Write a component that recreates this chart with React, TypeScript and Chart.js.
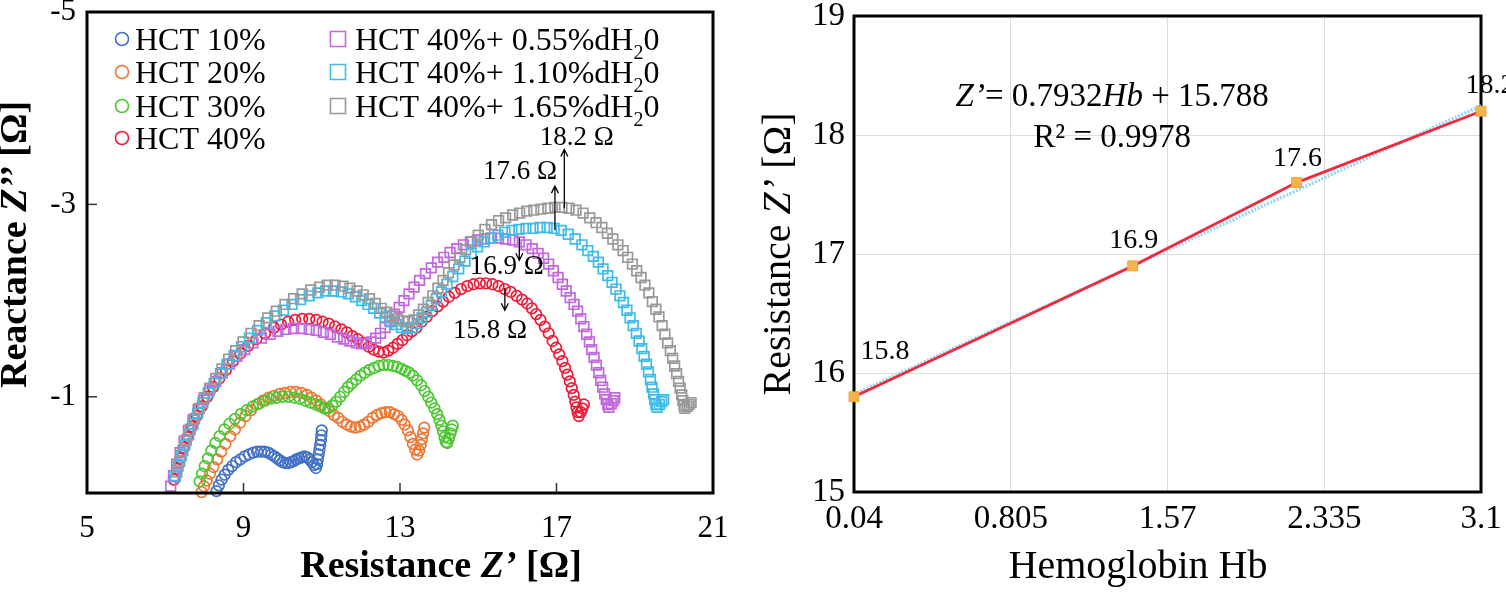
import React, { useEffect, useRef } from 'react';
import { Chart, registerables } from 'chart.js';

Chart.register(...registerables);

const SERIF = '"Liberation Serif", "Times New Roman", Times, serif';

type Pt = [number, number];

// ---------------- Left panel: Nyquist plot (Resistance Z', Reactance Z'') ----------------
const hct10: Pt[] = [
  [8.31, -0.02], [8.37, -0.08], [8.44, -0.14], [8.52, -0.19], [8.61, -0.24], [8.71, -0.28], [8.81, -0.32],
  [8.92, -0.35], [9.03, -0.38], [9.14, -0.40], [9.25, -0.42], [9.35, -0.43], [9.45, -0.43], [9.54, -0.43],
  [9.63, -0.42], [9.71, -0.40], [9.79, -0.38], [9.86, -0.36], [9.93, -0.34], [10.0, -0.32], [10.07, -0.31],
  [10.14, -0.31], [10.21, -0.32], [10.28, -0.33], [10.35, -0.35], [10.42, -0.36], [10.49, -0.37], [10.56, -0.38],
  [10.63, -0.37], [10.69, -0.35], [10.75, -0.32], [10.8, -0.29], [10.85, -0.26], [10.88, -0.3], [10.9, -0.35],
  [10.92, -0.4], [10.94, -0.45], [10.96, -0.5], [10.98, -0.55], [10.99, -0.6], [11.0, -0.65],
];

const hct20: Pt[] = [
  [7.93, -0.01], [7.99, -0.07], [8.06, -0.13], [8.14, -0.2], [8.23, -0.27], [8.33, -0.35], [8.43, -0.43],
  [8.54, -0.51], [8.66, -0.59], [8.78, -0.66], [8.91, -0.73], [9.05, -0.8], [9.19, -0.86], [9.34, -0.92],
  [9.5, -0.96], [9.64, -0.99], [9.78, -1.01], [9.92, -1.03], [10.06, -1.04], [10.2, -1.05], [10.34, -1.05],
  [10.48, -1.04], [10.62, -1.02], [10.74, -0.99], [10.86, -0.96], [10.98, -0.92], [11.09, -0.88], [11.2, -0.85],
  [11.31, -0.81], [11.42, -0.78], [11.53, -0.74], [11.64, -0.71], [11.75, -0.69], [11.86, -0.68], [11.97, -0.69],
  [12.08, -0.71], [12.19, -0.74], [12.3, -0.78], [12.41, -0.81], [12.52, -0.83], [12.63, -0.84], [12.74, -0.84],
  [12.85, -0.82], [12.95, -0.8], [13.04, -0.76], [13.12, -0.71], [13.2, -0.65], [13.27, -0.58], [13.33, -0.51],
  [13.39, -0.45], [13.44, -0.4], [13.49, -0.44], [13.53, -0.5], [13.56, -0.56], [13.59, -0.62], [13.62, -0.68],
];

const hct30: Pt[] = [
  [7.88, -0.12], [7.94, -0.2], [8.01, -0.28], [8.09, -0.36], [8.18, -0.44], [8.28, -0.52], [8.39, -0.59],
  [8.51, -0.66], [8.64, -0.72], [8.78, -0.77], [8.93, -0.82], [9.08, -0.86], [9.24, -0.9], [9.4, -0.93],
  [9.55, -0.96], [9.7, -0.98], [9.85, -0.99], [10.0, -1.0], [10.15, -1.0], [10.3, -0.99], [10.44, -0.98],
  [10.58, -0.96], [10.71, -0.94], [10.84, -0.92], [10.96, -0.9], [11.07, -0.88], [11.17, -0.88], [11.27, -0.91],
  [11.37, -0.95], [11.47, -1.0], [11.57, -1.05], [11.67, -1.1], [11.77, -1.14], [11.88, -1.18], [11.99, -1.22],
  [12.1, -1.25], [12.22, -1.28], [12.34, -1.3], [12.46, -1.32], [12.58, -1.33], [12.7, -1.33], [12.82, -1.32],
  [12.93, -1.31], [13.04, -1.29], [13.14, -1.27], [13.24, -1.25], [13.33, -1.22], [13.44, -1.17], [13.54, -1.12],
  [13.63, -1.06], [13.72, -1.0], [13.8, -0.94], [13.88, -0.88], [13.95, -0.82], [14.01, -0.76], [14.06, -0.7],
  [14.1, -0.64], [14.14, -0.58], [14.17, -0.53], [14.21, -0.52], [14.25, -0.57], [14.29, -0.62], [14.32, -0.66],
  [14.35, -0.7],
];

const hct40: Pt[] = [
  [7.22, -0.14], [7.3, -0.25], [7.38, -0.36], [7.47, -0.47], [7.57, -0.58], [7.68, -0.69], [7.8, -0.8],
  [7.93, -0.9], [8.07, -1.0], [8.22, -1.1], [8.38, -1.19], [8.55, -1.28], [8.73, -1.37], [8.92, -1.45],
  [9.12, -1.53], [9.33, -1.6], [9.55, -1.66], [9.78, -1.72], [9.96, -1.75], [10.14, -1.78], [10.32, -1.8],
  [10.5, -1.81], [10.68, -1.81], [10.86, -1.8], [11.02, -1.78], [11.18, -1.76], [11.34, -1.73], [11.5, -1.7],
  [11.64, -1.67], [11.78, -1.63], [11.92, -1.6], [12.06, -1.56], [12.2, -1.52], [12.33, -1.49], [12.46, -1.47],
  [12.58, -1.46], [12.7, -1.48], [12.82, -1.51], [12.94, -1.55], [13.06, -1.59], [13.18, -1.64], [13.3, -1.68],
  [13.42, -1.72], [13.55, -1.78], [13.68, -1.83], [13.82, -1.89], [13.96, -1.94], [14.1, -1.99], [14.25, -2.04],
  [14.4, -2.08], [14.56, -2.12], [14.72, -2.15], [14.88, -2.17], [15.04, -2.18], [15.2, -2.18], [15.36, -2.17],
  [15.52, -2.15], [15.68, -2.12], [15.83, -2.09], [15.98, -2.05], [16.12, -2.01], [16.25, -1.97], [16.37, -1.92],
  [16.48, -1.86], [16.59, -1.8], [16.7, -1.73], [16.8, -1.66], [16.9, -1.58], [16.99, -1.51], [17.07, -1.44],
  [17.15, -1.37], [17.22, -1.3], [17.28, -1.23], [17.34, -1.16], [17.39, -1.09], [17.44, -1.02], [17.48, -0.95],
  [17.51, -0.89], [17.54, -0.84], [17.57, -0.8], [17.62, -0.84], [17.66, -0.88], [17.7, -0.92],
];

const hct40Water055: Pt[] = [
  [7.14, -0.07], [7.21, -0.18], [7.29, -0.3], [7.38, -0.42], [7.48, -0.54], [7.59, -0.65], [7.71, -0.76],
  [7.84, -0.87], [7.98, -0.97], [8.13, -1.07], [8.29, -1.16], [8.46, -1.25], [8.64, -1.34], [8.83, -1.42],
  [9.03, -1.49], [9.24, -1.56], [9.46, -1.61], [9.68, -1.65], [9.88, -1.68], [10.08, -1.7], [10.28, -1.71],
  [10.48, -1.71], [10.68, -1.7], [10.86, -1.69], [11.04, -1.67], [11.22, -1.65], [11.4, -1.62], [11.56, -1.6],
  [11.72, -1.58], [11.88, -1.56], [12.02, -1.55], [12.14, -1.55], [12.26, -1.57], [12.38, -1.61], [12.5, -1.66],
  [12.62, -1.72], [12.74, -1.79], [12.86, -1.86], [12.98, -1.93], [13.1, -2.0], [13.23, -2.07], [13.36, -2.14],
  [13.5, -2.21], [13.65, -2.28], [13.8, -2.34], [13.96, -2.4], [14.12, -2.45], [14.28, -2.5], [14.45, -2.54],
  [14.62, -2.58], [14.8, -2.61], [14.98, -2.63], [15.16, -2.64], [15.34, -2.65], [15.52, -2.65], [15.7, -2.64],
  [15.88, -2.63], [16.05, -2.61], [16.22, -2.58], [16.38, -2.54], [16.53, -2.49], [16.67, -2.44], [16.8, -2.38],
  [16.92, -2.31], [17.04, -2.24], [17.15, -2.17], [17.25, -2.1], [17.35, -2.03], [17.45, -1.96], [17.54, -1.89],
  [17.62, -1.81], [17.7, -1.73], [17.77, -1.65], [17.84, -1.57], [17.9, -1.49], [17.96, -1.41], [18.02, -1.33],
  [18.08, -1.25], [18.13, -1.17], [18.18, -1.1], [18.23, -1.03], [18.27, -0.97], [18.31, -0.92], [18.34, -0.89],
  [18.4, -0.93], [18.45, -0.96], [18.49, -0.99],
];

const hct40Water110: Pt[] = [
  [7.26, -0.17], [7.33, -0.28], [7.41, -0.39], [7.5, -0.5], [7.6, -0.61], [7.71, -0.72], [7.83, -0.83],
  [7.96, -0.94], [8.1, -1.04], [8.25, -1.14], [8.41, -1.24], [8.58, -1.34], [8.76, -1.43], [8.95, -1.52],
  [9.15, -1.61], [9.36, -1.69], [9.58, -1.77], [9.8, -1.84], [10.02, -1.9], [10.24, -1.96], [10.46, -2.01],
  [10.68, -2.05], [10.9, -2.08], [11.1, -2.1], [11.3, -2.1], [11.5, -2.09], [11.68, -2.07], [11.86, -2.04],
  [12.02, -2.0], [12.18, -1.96], [12.33, -1.92], [12.48, -1.87], [12.62, -1.83], [12.76, -1.78], [12.9, -1.75],
  [13.04, -1.72], [13.18, -1.71], [13.32, -1.72], [13.44, -1.76], [13.56, -1.82], [13.68, -1.88], [13.8, -1.95],
  [13.93, -2.02], [14.06, -2.09], [14.2, -2.17], [14.35, -2.25], [14.5, -2.33], [14.66, -2.41], [14.82, -2.49],
  [14.98, -2.56], [15.15, -2.61], [15.32, -2.65], [15.5, -2.68], [15.68, -2.71], [15.86, -2.73], [16.04, -2.74],
  [16.22, -2.75], [16.4, -2.75], [16.58, -2.76], [16.76, -2.76], [16.94, -2.75], [17.12, -2.73], [17.3, -2.69],
  [17.48, -2.64], [17.65, -2.58], [17.8, -2.52], [17.94, -2.46], [18.07, -2.4], [18.19, -2.33], [18.31, -2.26],
  [18.42, -2.19], [18.52, -2.12], [18.62, -2.05], [18.71, -1.98], [18.8, -1.9], [18.88, -1.82], [18.96, -1.74],
  [19.04, -1.66], [19.11, -1.58], [19.18, -1.5], [19.24, -1.42], [19.3, -1.34], [19.35, -1.26], [19.4, -1.18],
  [19.44, -1.1], [19.48, -1.03], [19.51, -0.97], [19.54, -0.92], [19.57, -0.89], [19.63, -0.92], [19.69, -0.95],
  [19.74, -0.97],
];

const hct40Water165: Pt[] = [
  [7.3, -0.22], [7.37, -0.33], [7.45, -0.44], [7.54, -0.55], [7.64, -0.66], [7.75, -0.77], [7.87, -0.88],
  [8.0, -0.99], [8.14, -1.09], [8.29, -1.19], [8.45, -1.29], [8.62, -1.39], [8.8, -1.48], [8.99, -1.57],
  [9.19, -1.66], [9.4, -1.74], [9.62, -1.82], [9.84, -1.89], [10.06, -1.96], [10.28, -2.02], [10.5, -2.07],
  [10.72, -2.11], [10.94, -2.14], [11.14, -2.16], [11.34, -2.16], [11.54, -2.15], [11.72, -2.13], [11.9, -2.1],
  [12.06, -2.06], [12.22, -2.02], [12.37, -1.97], [12.52, -1.92], [12.66, -1.88], [12.8, -1.84], [12.94, -1.81],
  [13.08, -1.79], [13.22, -1.78], [13.36, -1.8], [13.48, -1.85], [13.6, -1.91], [13.72, -1.98], [13.84, -2.05],
  [13.97, -2.13], [14.1, -2.21], [14.24, -2.29], [14.38, -2.37], [14.53, -2.45], [14.68, -2.53], [14.84, -2.61],
  [15.0, -2.68], [15.17, -2.74], [15.34, -2.79], [15.52, -2.83], [15.7, -2.86], [15.88, -2.89], [16.06, -2.91],
  [16.24, -2.93], [16.42, -2.94], [16.6, -2.95], [16.78, -2.96], [16.96, -2.97], [17.14, -2.97], [17.32, -2.96],
  [17.5, -2.94], [17.68, -2.91], [17.85, -2.86], [18.01, -2.81], [18.16, -2.76], [18.3, -2.7], [18.44, -2.64],
  [18.57, -2.58], [18.7, -2.52], [18.82, -2.45], [18.94, -2.38], [19.05, -2.31], [19.16, -2.24], [19.26, -2.16],
  [19.36, -2.08], [19.45, -1.99], [19.54, -1.91], [19.62, -1.83], [19.7, -1.74], [19.77, -1.65], [19.84, -1.56],
  [19.91, -1.48], [19.97, -1.4], [20.02, -1.32], [20.07, -1.24], [20.12, -1.16], [20.16, -1.09], [20.2, -1.02],
  [20.23, -0.96], [20.26, -0.91], [20.28, -0.88], [20.34, -0.9], [20.39, -0.92], [20.44, -0.94],
];

const nyquistLabels = [
  'HCT 10%', 'HCT 20%', 'HCT 30%', 'HCT 40%',
  'HCT 40%+ 0.55%dH₂0', 'HCT 40%+ 1.10%dH₂0', 'HCT 40%+ 1.65%dH₂0',
];
const resistanceTicks = [5, 9, 13, 17, 21];
const reactanceTicks = [-5, -3, -1];

const peakLabels = ['18.2 Ω', '17.6 Ω', '16.9 Ω', '15.8 Ω'];
const peakTextX = [17.52, 16.07, 15.73, 15.3];
const peakTextY = [-3.69, -3.34, -2.35, -1.69];
const arrowX = [17.2, 16.96, 16.05, 15.68];
const arrowFromY = [-2.96, -2.73, -2.65, -2.13];
const arrowToY = [-3.57, -3.19, -2.42, -1.9];

// ---------------- Right panel: Resistance vs Hemoglobin ----------------
const hemoglobin = [0.04, 1.4, 2.2, 3.1];
const resistanceZ = [15.8, 16.9, 17.6, 18.2];
const trendHb = [0.04, 3.1];
const trendZ = [15.82, 18.247];
const hbTicks = [0.04, 0.805, 1.57, 2.335, 3.1];
const zTicks = [15, 16, 17, 18, 19];
const pointLabels = ['15.8', '16.9', '17.6', '18.2'];

// ---------------- styles ----------------
const seriesColors = ['#4272c6', '#ef7630', '#4cc633', '#f01a38', '#c268de', '#3fbbe8', '#999999'];
const seriesShapes = ['circle', 'circle', 'circle', 'circle', 'rect', 'rect', 'rect'];
const labelDx = [31, 1, 1, 9];
const labelDy = [-38, -18, -17, -18];

type Seg = { t: string; it?: boolean; sub?: boolean };

function drawRich(
  ctx: CanvasRenderingContext2D,
  segs: Seg[],
  x: number,
  y: number,
  size: number,
  opts: { bold?: boolean; align?: 'left' | 'center'; rotate?: boolean; baseline?: CanvasTextBaseline } = {},
) {
  ctx.save();
  ctx.translate(x, y);
  if (opts.rotate) ctx.rotate(-Math.PI / 2);
  ctx.textBaseline = opts.baseline ?? 'alphabetic';
  ctx.textAlign = 'left';
  ctx.fillStyle = '#000';
  const font = (s: Seg) =>
    `${s.it ? 'italic ' : ''}${opts.bold ? 'bold ' : ''}${s.sub ? Math.round(size * 0.62) : size}px ${SERIF}`;
  const widths = segs.map((s) => {
    ctx.font = font(s);
    return ctx.measureText(s.t).width;
  });
  const total = widths.reduce((a, b) => a + b, 0);
  let cx = opts.align === 'center' ? -total / 2 : 0;
  segs.forEach((s, i) => {
    ctx.font = font(s);
    ctx.fillText(s.t, cx, s.sub ? size * 0.27 : 0);
    cx += widths[i];
  });
  ctx.restore();
}

function toSegs(label: string): Seg[] {
  const parts = label.split('₂');
  if (parts.length === 1) return [{ t: label }];
  return [{ t: parts[0] }, { t: '2', sub: true }, { t: parts[1] }];
}

const leftDecor = {
  id: 'leftDecor',
  afterDatasetsDraw(chart: any) {
    const { ctx, chartArea: a, scales } = chart;
    const xs = scales.x;
    const ys = scales.y;
    ctx.save();
    // inward tick marks
    ctx.strokeStyle = '#333';
    ctx.lineWidth = 1.5;
    resistanceTicks.slice(1, -1).forEach((v) => {
      const p = xs.getPixelForValue(v);
      ctx.beginPath();
      ctx.moveTo(p, a.bottom);
      ctx.lineTo(p, a.bottom - 10);
      ctx.stroke();
    });
    reactanceTicks.slice(1).forEach((v) => {
      const p = ys.getPixelForValue(v);
      ctx.beginPath();
      ctx.moveTo(a.left, p);
      ctx.lineTo(a.left + 10, p);
      ctx.stroke();
    });
    // frame
    ctx.strokeStyle = '#000';
    ctx.lineWidth = 3;
    ctx.strokeRect(a.left, a.top, a.right - a.left, a.bottom - a.top);

    // legend
    const rowBase = [38, 71, 105, 137];
    nyquistLabels.forEach((lab, i) => {
      const col = i < 4 ? 0 : 1;
      const row = i < 4 ? i : i - 4;
      const base = a.top + rowBase[row];
      const mx = col === 0 ? a.left + 35 : a.left + 251;
      const tx = col === 0 ? a.left + 48 : a.left + 268;
      const my = base - 11;
      ctx.strokeStyle = seriesColors[i];
      ctx.lineWidth = 1.6;
      ctx.beginPath();
      if (seriesShapes[i] === 'circle') {
        ctx.ellipse(mx, my, 6.5, 6.5, 0, 0, Math.PI * 2);
      } else {
        ctx.rect(mx - 7.5, my - 7.5, 15, 15);
      }
      ctx.stroke();
      drawRich(ctx, toSegs(lab), tx, base, 32, { align: 'left' });
    });

    // peak annotations with arrows
    ctx.strokeStyle = '#000';
    ctx.lineWidth = 1.3;
    peakLabels.forEach((lab, i) => {
      const tx = xs.getPixelForValue(peakTextX[i]);
      const ty = ys.getPixelForValue(peakTextY[i]);
      drawRich(ctx, [{ t: lab }], tx, ty, 27, { align: 'center', baseline: 'middle' });
      const ax = xs.getPixelForValue(arrowX[i]);
      const y1 = ys.getPixelForValue(arrowFromY[i]);
      const y2 = ys.getPixelForValue(arrowToY[i]);
      const dir = Math.sign(y1 - y2);
      ctx.beginPath();
      ctx.moveTo(ax, y1);
      ctx.lineTo(ax, y2);
      ctx.moveTo(ax - 3.5, y2 + dir * 7);
      ctx.lineTo(ax, y2);
      ctx.lineTo(ax + 3.5, y2 + dir * 7);
      ctx.stroke();
    });

    // axis titles
    drawRich(ctx, [{ t: 'Reactance ' }, { t: 'Z’’', it: true }, { t: ' [Ω]' }], 26, 244.5, 38, {
      bold: true,
      align: 'center',
      rotate: true,
    });
    drawRich(ctx, [{ t: 'Resistance ' }, { t: 'Z’', it: true }, { t: ' [Ω]' }], 441, 577, 38, {
      bold: true,
      align: 'center',
    });
    ctx.restore();
  },
};

const rightFrame = {
  id: 'rightFrame',
  beforeDatasetsDraw(chart: any) {
    const { ctx, chartArea: a } = chart;
    ctx.save();
    ctx.strokeStyle = '#000';
    ctx.lineWidth = 3;
    ctx.strokeRect(a.left, a.top, a.right - a.left, a.bottom - a.top);
    ctx.restore();
  },
  afterDatasetsDraw(chart: any) {
    const { ctx, scales } = chart;
    const xs = scales.x;
    const ys = scales.y;
    ctx.save();
    const meta = chart.getDatasetMeta(0);
    meta.data.forEach((el: any, i: number) => {
      drawRich(ctx, [{ t: pointLabels[i] }], el.x + labelDx[i], el.y + labelDy[i], 28, { align: 'center' });
    });
    const ex = xs.getPixelForValue(1.3);
    drawRich(
      ctx,
      [{ t: 'Z’', it: true }, { t: '= 0.7932' }, { t: 'Hb', it: true }, { t: ' + 15.788' }],
      ex,
      ys.getPixelForValue(18.244),
      33,
      { align: 'center' },
    );
    drawRich(ctx, [{ t: 'R² = 0.9978' }], ex, ys.getPixelForValue(17.899), 33, { align: 'center' });
    drawRich(ctx, [{ t: 'Resistance ' }, { t: 'Z’', it: true }, { t: ' [Ω]' }], 50, 254, 40, {
      align: 'center',
      rotate: true,
    });
    drawRich(ctx, [{ t: 'Hemoglobin Hb' }], 398, 578, 40, { align: 'center' });
    ctx.restore();
  },
};

function leftConfig(): any {
  const all = [hct10, hct20, hct30, hct40, hct40Water055, hct40Water110, hct40Water165];
  return {
    type: 'scatter',
    data: {
      datasets: all.map((pts, i) => ({
        label: nyquistLabels[i],
        data: pts.map(([x, y]) => ({ x, y })),
        showLine: false,
        pointStyle: seriesShapes[i],
        pointRadius: seriesShapes[i] === 'rect' ? 6.8 : 5.3,
        pointBorderWidth: 1.7,
        pointBorderColor: seriesColors[i],
        pointBackgroundColor: 'rgba(255,255,255,0)',
        borderColor: seriesColors[i],
        backgroundColor: 'rgba(255,255,255,0)',
        clip: false,
        order: all.length - 1 - i,
      })),
    },
    options: {
      animation: false,
      responsive: false,
      maintainAspectRatio: false,
      events: [],
      layout: { padding: { left: 0, right: 27, top: 12, bottom: 0 } },
      plugins: { legend: { display: false }, tooltip: { enabled: false } },
      scales: {
        x: {
          type: 'linear',
          min: 5,
          max: 21,
          afterBuildTicks: (s: any) => {
            s.ticks = resistanceTicks.map((value) => ({ value }));
          },
          afterFit: (s: any) => {
            s.height = 99;
            s.paddingLeft = 0;
            s.paddingRight = 0;
          },
          grid: { display: false },
          border: { display: false },
          ticks: {
            autoSkip: false,
            maxRotation: 0,
            padding: 9,
            color: '#000',
            font: { family: SERIF, size: 31 },
            callback: (v: any) => String(v),
          },
        },
        y: {
          type: 'linear',
          min: -5,
          max: 0,
          reverse: true,
          afterBuildTicks: (s: any) => {
            s.ticks = reactanceTicks.map((value) => ({ value }));
          },
          afterFit: (s: any) => {
            s.width = 87;
            s.paddingTop = 0;
            s.paddingBottom = 0;
          },
          grid: { display: false },
          border: { display: false },
          ticks: {
            autoSkip: false,
            padding: 3,
            color: '#000',
            font: { family: SERIF, size: 31 },
            callback: (v: any) => String(v),
          },
        },
      },
    },
    plugins: [leftDecor],
  };
}

function rightConfig(): any {
  return {
    type: 'scatter',
    data: {
      datasets: [
        {
          label: 'Resistance',
          data: hemoglobin.map((x, i) => ({ x, y: resistanceZ[i] })),
          showLine: true,
          borderColor: '#ee2a3c',
          borderWidth: 2.8,
          pointStyle: 'rect',
          pointRadius: 7,
          pointBackgroundColor: '#f5b449',
          pointBorderColor: '#eca23a',
          pointBorderWidth: 1,
          clip: false,
        },
        {
          label: 'Linear trend',
          data: trendHb.map((x, i) => ({ x, y: trendZ[i] })),
          showLine: true,
          borderColor: '#97d5f0',
          borderWidth: 3.5,
          borderDash: [2, 1.5],
          pointRadius: 0,
          clip: false,
        },
      ],
    },
    options: {
      animation: false,
      responsive: false,
      maintainAspectRatio: false,
      events: [],
      layout: { padding: { left: 0, right: 25, top: 16, bottom: 0 } },
      plugins: { legend: { display: false }, tooltip: { enabled: false } },
      scales: {
        x: {
          type: 'linear',
          min: 0.04,
          max: 3.1,
          afterBuildTicks: (s: any) => {
            s.ticks = hbTicks.map((value) => ({ value }));
          },
          afterFit: (s: any) => {
            s.height = 100;
            s.paddingLeft = 0;
            s.paddingRight = 0;
          },
          grid: { color: '#dcdcdc', lineWidth: 1, drawTicks: false },
          border: { display: false },
          ticks: {
            autoSkip: false,
            maxRotation: 0,
            padding: 8,
            color: '#000',
            font: { family: SERIF, size: 33 },
            callback: (v: any) => String(v),
          },
        },
        y: {
          type: 'linear',
          min: 15,
          max: 19,
          afterBuildTicks: (s: any) => {
            s.ticks = zTicks.map((value) => ({ value }));
          },
          afterFit: (s: any) => {
            s.width = 114;
            s.paddingTop = 0;
            s.paddingBottom = 0;
          },
          grid: { color: '#dcdcdc', lineWidth: 1, drawTicks: false },
          border: { display: false },
          ticks: {
            autoSkip: false,
            padding: 9,
            color: '#000',
            font: { family: SERIF, size: 33 },
            callback: (v: any) => String(v),
          },
        },
      },
    },
    plugins: [rightFrame],
  };
}

export default function App() {
  const leftRef = useRef<HTMLCanvasElement>(null);
  const rightRef = useRef<HTMLCanvasElement>(null);

  useEffect(() => {
    document.body.style.margin = '0';
    const left = new Chart(leftRef.current as HTMLCanvasElement, leftConfig());
    const right = new Chart(rightRef.current as HTMLCanvasElement, rightConfig());
    return () => {
      left.destroy();
      right.destroy();
    };
  }, []);

  return (
    <div style={{ position: 'relative', width: 1506, height: 592, background: '#fff', overflow: 'hidden' }}>
      <canvas
        ref={leftRef}
        width={740}
        height={592}
        style={{ position: 'absolute', left: 0, top: 0, width: 740, height: 592 }}
      />
      <canvas
        ref={rightRef}
        width={766}
        height={592}
        style={{ position: 'absolute', left: 740, top: 0, width: 766, height: 592 }}
      />
    </div>
  );
}
